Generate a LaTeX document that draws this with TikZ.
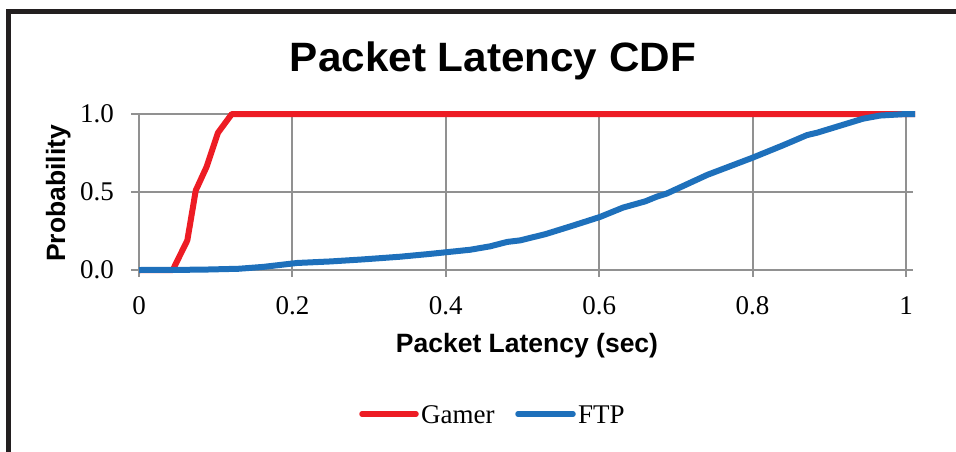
\documentclass[tikz,border=0pt]{standalone}
\usepackage{fontspec}
\setmainfont{Liberation Serif}
\newfontfamily\hsans{Liberation Sans}
\definecolor{gamer}{RGB}{237,28,36}
\definecolor{ftp}{RGB}{30,112,187}
\definecolor{gridc}{RGB}{145,145,145}
\definecolor{framec}{RGB}{35,31,32}
\tikzset{
  gridline/.style={draw=gridc, line width=2pt},
  series/.style={line width=6pt, line join=round},
  legline/.style={line width=5.5pt, line cap=round},
  ticklab/.style={inner sep=0pt, font=\fontsize{27}{27}\selectfont},
  leglab/.style={inner sep=0pt, anchor=base west, font=\fontsize{27}{27}\selectfont},
  axislab/.style={inner sep=0pt, font=\hsans\bfseries\fontsize{26.5}{26.5}\selectfont}
}
\begin{document}
\begin{tikzpicture}[x=1pt,y=-1pt]
\useasboundingbox (0,0) rectangle (956,451);
\begin{scope}
\clip (0,0) rectangle (956,451);
% frame
\draw[framec, line width=4.5pt] (8.5,455) -- (8.5,11.5) -- (958,11.5);
\end{scope}
% title
\node[inner sep=0pt, anchor=base, xscale=1.03, font=\hsans\bfseries\fontsize{41}{41}\selectfont] (title) at (493,71.7) {Packet Latency CDF};
% grid
\foreach \yy in {114,192,270} \draw[gridline] (131,\yy) -- (913,\yy);
\foreach \xx in {139,292.4,445.8,599.2,752.6,906} \draw[gridline] (\xx,114) -- (\xx,277);
% y tick labels
\node[ticklab, anchor=east] (y10) at (114,114) {1.0};
\node[ticklab, anchor=east] (y05) at (114,192) {0.5};
\node[ticklab, anchor=east] (y00) at (114,270) {0.0};
% x tick labels
\node[ticklab, anchor=base] (x0) at (139,314) {0};
\node[ticklab, anchor=base] (x2) at (292.4,314) {0.2};
\node[ticklab, anchor=base] (x4) at (445.8,314) {0.4};
\node[ticklab, anchor=base] (x6) at (599.2,314) {0.6};
\node[ticklab, anchor=base] (x8) at (752.6,314) {0.8};
\node[ticklab, anchor=base] (x10) at (906,314) {1};
% axis labels
\node[axislab, anchor=base] (xlab) at (527,352) {Packet Latency (sec)};
\node[axislab, anchor=base, rotate=90] (ylab) at (65,193.5) {Probability};
% data
\begin{scope}[shift={(139pt,-270pt)}, x=767pt, y=156pt]
\draw[series, gamer] (0,0) -- (0.044,0) -- (0.063,0.19) -- (0.074,0.51) -- (0.088,0.66) -- (0.103,0.88) -- (0.121,1) -- (1.012,1);
\draw[series, ftp] (0,0) -- (0.08,0.002) -- (0.13,0.008) -- (0.162,0.02) -- (0.206,0.045) -- (0.25,0.055) -- (0.292,0.068) -- (0.34,0.085) -- (0.379,0.103) -- (0.432,0.13) -- (0.458,0.152) -- (0.48,0.18) -- (0.497,0.19) -- (0.53,0.23) -- (0.566,0.285) -- (0.601,0.34) -- (0.631,0.40) -- (0.66,0.44) -- (0.675,0.47) -- (0.688,0.49) -- (0.741,0.61) -- (0.80,0.72) -- (0.84,0.80) -- (0.871,0.865) -- (0.884,0.88) -- (0.944,0.97) -- (0.966,0.99) -- (1,1) -- (1.012,1);
\end{scope}
% legend
\coordinate (gA) at (362,414);
\coordinate (gB) at (416,414);
\draw[legline, gamer] (gA) -- (gB);
\node[leglab] (gamerlab) at (421,423) {Gamer};
\coordinate (fA) at (518,414);
\coordinate (fB) at (573,414);
\draw[legline, ftp] (fA) -- (fB);
\node[leglab] (ftplab) at (578,423) {FTP};
\end{tikzpicture}
\end{document}
